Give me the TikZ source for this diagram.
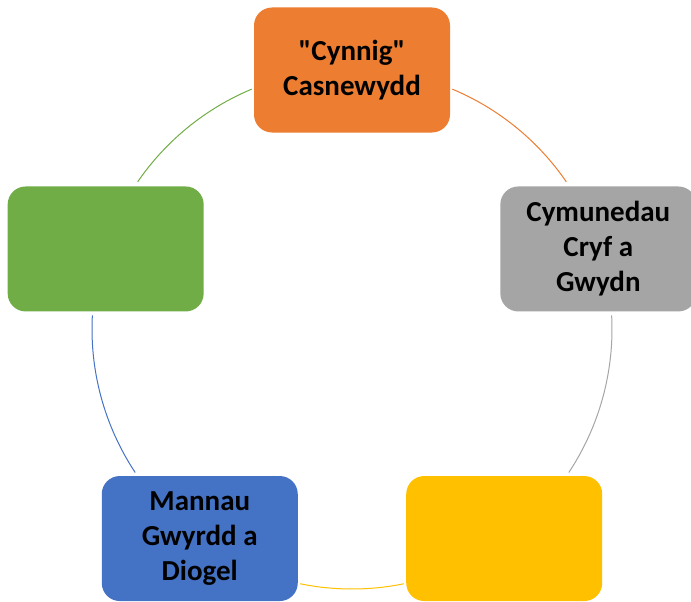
\documentclass[tikz,border=0pt]{standalone}
\usepackage{fontspec}
\setmainfont{Carlito}[Ligatures=TeXOff]
\usetikzlibrary{calc}
\definecolor{orng}{HTML}{ED7D31}
\definecolor{gry}{HTML}{A5A5A5}
\definecolor{ylw}{HTML}{FFC000}
\definecolor{blu}{HTML}{4472C4}
\definecolor{grn}{HTML}{70AD47}
\begin{document}
\begin{tikzpicture}[x=1pt,y=1pt,
box/.style={rounded corners=18pt, minimum width=196pt, minimum height=125pt, inner sep=0pt,
  align=center, font=\fontsize{29}{35}\selectfont\bfseries, text=black},
link/.style={line width=1pt}]
\useasboundingbox (0,0) rectangle (691,-602);
\coordinate (c) at (352,-329);
\foreach \ang/\col/\nm/\txt in {90/orng/cynnig/{"Cynnig"\\Casnewydd},
  18/gry/cymunedau/{Cymunedau\\Cryf a\\Gwydn},
  -54/ylw/melyn/{},
  -126/blu/mannau/{Mannau\\Gwyrdd a\\Diogel},
  162/grn/gwyrdd/{}}
{
    \node[box, fill=\col] (\nm) at ($(c)+(\ang:259)$) {\txt};
}
\foreach \from/\to/\col in {67.3/34.5/orng, 3/-33.5/gry, -78.5/-101.5/ylw,
  213.5/177/blu, 145.5/112.7/grn}
{
    \draw[link, \col] ([shift={(\from:260)}]c) arc[start angle=\from, end angle=\to, radius=260];
}
\end{tikzpicture}
\end{document}
